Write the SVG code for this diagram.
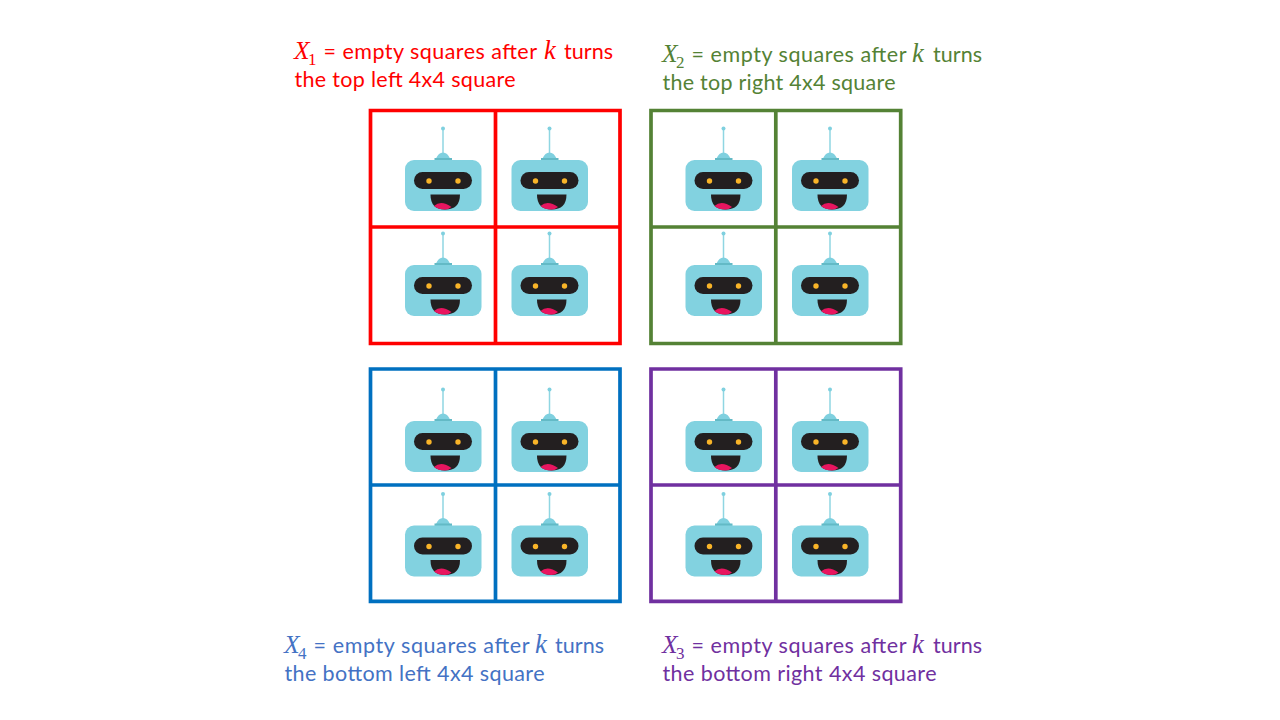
<svg xmlns="http://www.w3.org/2000/svg" xmlns:xlink="http://www.w3.org/1999/xlink" width="1280" height="720" viewBox="0 0 1280 720">
<style>
text{font-family:"Lato","Open Sans",sans-serif;font-size:21.5px}
.m{font-family:"Liberation Serif",serif;font-style:italic;font-size:25.5px}
.k{font-size:26.5px}
.s{font-family:"Liberation Serif",serif;font-size:17px}
.g{fill:none;stroke-width:3.7}
</style>
<defs>
<symbol id="robot" overflow="visible" viewBox="0 0 1280 720" width="1280" height="720">
<line x1="443" y1="128.500" x2="443" y2="156" stroke="#8fd6e2" stroke-width="1.500"/>
<circle cx="443" cy="128.500" r="2" fill="#7fd0df"/>
<path d="M436 158.500q2.500-6 7-6q4.500 0 7 6z" fill="#7fd0df"/>
<rect x="434.500" y="158" width="17.500" height="2.500" fill="#63bac6"/>
<rect x="405" y="160" width="76.500" height="51" rx="9" fill="#82d2e0"/>
<rect x="414" y="172" width="58" height="17" rx="8.500" fill="#231f20"/>
<circle cx="429" cy="181" r="2.700" fill="#f9b428"/>
<circle cx="458" cy="181" r="2.700" fill="#f9b428"/>
<path d="M430.500 194.500H460Q460 209.500 445 209.500Q430.500 209.500 430.500 194.500z" fill="#231f20"/>
<path d="M434 206Q441 199.500 451.500 207Q448 209.500 445 209.500Q438 209.500 434 206z" fill="#e8155f"/>
</symbol>
</defs>
<rect width="1280" height="720" fill="#fff"/>
<g id="grid-top-left">
<path class="g" stroke="#ff0000" d="M370.500 110.500H620V343.500H370.500zM495.500 110.500V343.500M370.500 227H620"/>
<use xlink:href="#robot"/><use xlink:href="#robot" x="106.500"/><use xlink:href="#robot" y="105"/><use xlink:href="#robot" x="106.500" y="105"/>
</g>
<g id="grid-top-right">
<path class="g" stroke="#548235" d="M651 110.500H900.700V343.500H651zM775.800 110.500V343.500M651 227H900.700"/>
<use xlink:href="#robot" x="280.500"/><use xlink:href="#robot" x="387"/><use xlink:href="#robot" x="280.500" y="105"/><use xlink:href="#robot" x="387" y="105"/>
</g>
<g id="grid-bottom-left">
<path class="g" stroke="#0070c0" d="M370.500 369H620V601.300H370.500zM495.500 369V601.300M370.500 485H620"/>
<use xlink:href="#robot" y="261"/><use xlink:href="#robot" x="106.500" y="261"/><use xlink:href="#robot" y="365.500"/><use xlink:href="#robot" x="106.500" y="365.500"/>
</g>
<g id="grid-bottom-right">
<path class="g" stroke="#7030a0" d="M651 369H900.700V601.300H651zM775.800 369V601.300M651 485H900.700"/>
<use xlink:href="#robot" x="280.500" y="261"/><use xlink:href="#robot" x="387" y="261"/><use xlink:href="#robot" x="280.500" y="365.500"/><use xlink:href="#robot" x="387" y="365.500"/>
</g>
<g id="label-x1" fill="#ff0000">
<text class="m" x="294" y="59">X</text><text class="s" x="308" y="64.500">1</text>
<text x="323.500" y="59" textLength="213.500">= empty squares after</text><text class="m k" x="544" y="59">k</text><text x="564" y="59" textLength="49">turns</text>
<text x="294.500" y="87" textLength="221">the top left 4x4 square</text>
</g>
<g id="label-x2" fill="#548235">
<text class="m" x="662" y="62">X</text><text class="s" x="676" y="67.500">2</text>
<text x="691.500" y="62" textLength="215">= empty squares after</text><text class="m k" x="912" y="62">k</text><text x="933" y="62" textLength="49">turns</text>
<text x="662.500" y="90" textLength="233">the top right 4x4 square</text>
</g>
<g id="label-x4" fill="#4472c4">
<text class="m" x="284" y="653">X</text><text class="s" x="298" y="658.500">4</text>
<text x="313.500" y="653" textLength="216">= empty squares after</text><text class="m k" x="535" y="653">k</text><text x="555" y="653" textLength="49">turns</text>
<text x="284.500" y="681" textLength="260">the bottom left 4x4 square</text>
</g>
<g id="label-x3" fill="#7030a0">
<text class="m" x="662" y="653">X</text><text class="s" x="676" y="658.500">3</text>
<text x="691.500" y="653" textLength="215">= empty squares after</text><text class="m k" x="912" y="653">k</text><text x="933" y="653" textLength="49">turns</text>
<text x="662.500" y="681" textLength="274">the bottom right 4x4 square</text>
</g>
</svg>
